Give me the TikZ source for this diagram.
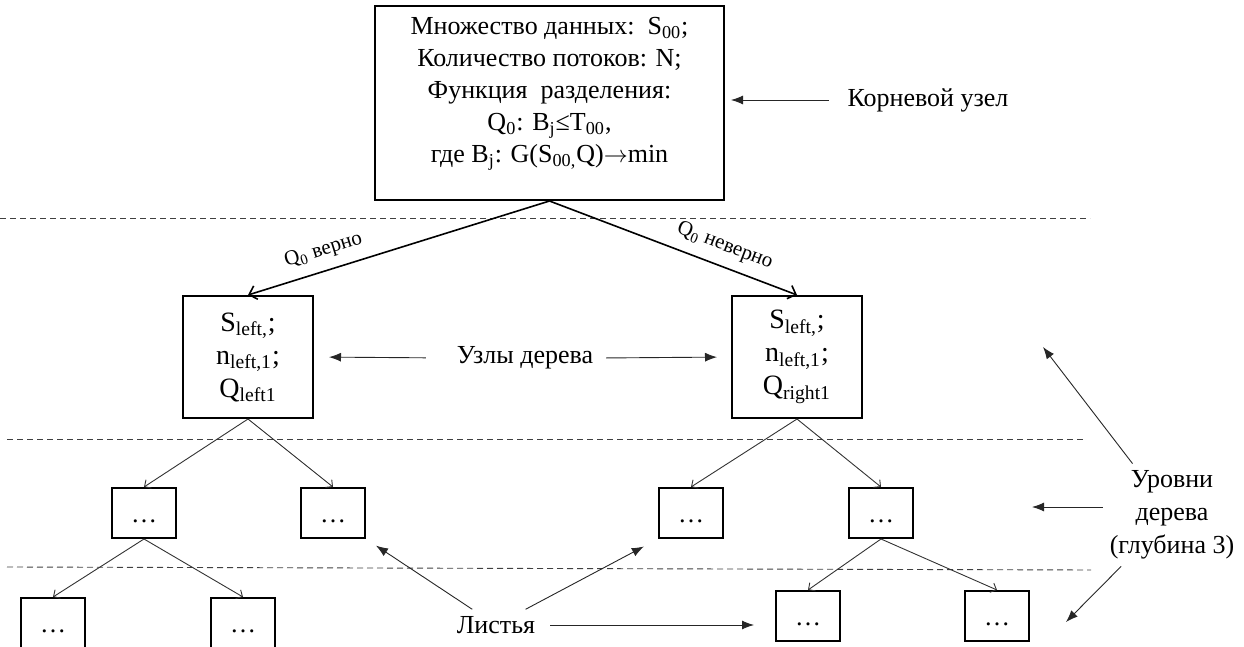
\documentclass[tikz,border=0pt]{standalone}
\usepackage{fontspec}
\setmainfont{Liberation Serif}
\usetikzlibrary{arrows.meta}

\newcommand{\lo}[1]{\textsubscript{#1}}

\tikzset{
  >={Straight Barb[length=3.5pt,width=7pt]},   % open arrow tip
  box/.style={draw, line width=1pt, inner sep=0pt, align=center,
    font=\fontsize{13}{16}\selectfont},
  bigbox/.style={box, minimum width=174.5pt, minimum height=97pt, text depth=13pt},
  midbox/.style={box, minimum width=65pt, minimum height=61pt, font=\fontsize{14}{16.5}\selectfont},
  leaf/.style={box, minimum width=32pt, minimum height=25pt, text height=9pt, text depth=0pt},
  note/.style={align=center, font=\fontsize{13}{16.5}\selectfont},
  lbl/.style={font=\fontsize{10.5}{12}\selectfont, inner sep=2pt},
  edge/.style={->, line width=0.8pt},
  twig/.style={-{Straight Barb[length=2.5pt,width=5pt]}, line width=0.45pt, black!80},
  point/.style={-{Latex[length=6pt,width=4.5pt]}, line width=0.45pt, black!85},
  cut/.style={dash pattern=on 3pt off 2pt, line width=0.45pt, black!75}
}

\begin{document}
\begin{tikzpicture}[x=0.5pt,y=-0.5pt]
	\useasboundingbox (0,0) rectangle (1244,647);

	% levels
	\draw[cut] (0,218) -- (1090,218);
	\draw[cut] (7,439) -- (1083,439);
	\draw[cut] (7,567) -- (1091,570);

	% root
	\node[bigbox] (root) at (549.5,103) {Множество данных:\ \ S\lo{00};\\
		Количество потоков: N;\\ Функция\ \ разделения:\\
		Q\lo{0}: B\lo{j}≤T\lo{00},\\ где B\lo{j}: G(S\lo{00,}Q)$\rightarrow$min};

	% depth 1
	\node[midbox] (l1) at (248,357) {S\lo{left,};\\ n\lo{left,1};\\ Q\lo{left1}};
	\node[midbox] (r1) at (797,357) {S\lo{left,};\\ n\lo{left,1};\\ Q\lo{right1}};

	% depth 2
	\node[leaf] (l2a) at (144,513) {…};
	\node[leaf] (l2b) at (333,513) {…};
	\node[leaf] (r2a) at (691,513) {…};
	\node[leaf] (r2b) at (881,513) {…};

	% depth 3
	\node[leaf] (l3a) at (53,623) {…};
	\node[leaf] (l3b) at (243,623) {…};
	\node[leaf] (r3a) at (808,616) {…};
	\node[leaf] (r3b) at (997,616) {…};

	% tree edges
	\draw[edge] (root.south) -- node[lbl, above=3pt, sloped, pos=0.73] {Q\lo{0} верно} (l1.north);
	\draw[edge] (root.south) -- node[lbl, above=3pt, sloped, pos=0.68] {Q\lo{0} неверно} (r1.north);
	\draw[twig] (l1.south) -- (l2a.north);
	\draw[twig] (l1.south) -- (l2b.north);
	\draw[twig] (r1.south) -- (r2a.north);
	\draw[twig] (r1.south) -- (r2b.north);
	\draw[twig] (l2a.south) -- (l3a.north);
	\draw[twig] (l2a.south) -- (l3b.north);
	\draw[twig] (r2b.south) -- (r3a.north);
	\draw[twig] (r2b.south) -- (r3b.north);

	% notes
	\node[note] (rootlbl) at (928,100) {Корневой узел};
	\draw[point, shorten <=6pt, shorten >=3pt] (rootlbl.west) -- (rootlbl.west -| root.east);

	\node[note] (nodes) at (525,358) {Узлы дерева};
	\draw[point, shorten <=12pt, shorten >=7.5pt] (nodes.west) -- (l1.east);
	\draw[point, shorten <=3pt, shorten >=7pt] (nodes.east) -- (r1.west);

	\node[note] (leaves) at (496,625) {Листья};
	\draw[point, shorten >=6pt] (leaves) -- (l2b.south east);
	\draw[point, shorten >=8pt] (leaves) -- (r2a.south west);
	\draw[point, shorten <=4pt, shorten >=10.5pt] (leaves.east) -- (leaves -| r3a.west);

	\node[note] (levels) at (1172,515) {Уровни\\ дерева\\ (глубина 3)};
	\coordinate (lvl1) at (1043,347);
	\coordinate (lvl2) at (1032,507);
	\coordinate (lvl3) at (1066,622);
	\draw[point] (levels) -- (lvl1);
	\draw[point] (lvl2 -| levels.west) -- (lvl2);
	\draw[point] (levels) -- (lvl3);
\end{tikzpicture}
\end{document}
